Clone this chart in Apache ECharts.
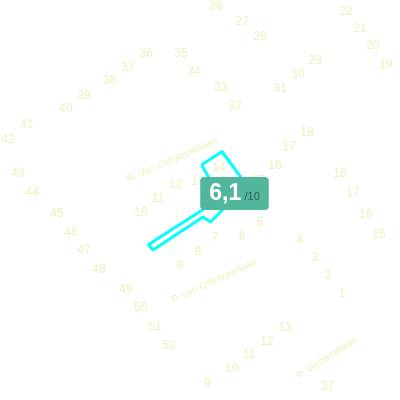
<!DOCTYPE html>
<html>
<head>
<meta charset="utf-8">
<script src="https://cdn.jsdelivr.net/npm/echarts@6/dist/echarts.min.js"></script>
<style>
  html, body { margin: 0; padding: 0; background: #fff; }
  #chart { width: 400px; height: 400px; }
</style>
</head>
<body>
<div id="chart"></div>
<script>
// house numbers along the streets (map units, y grows downward)
const houseLabels = ['26','27','28','22','21','20','19','36','35','37','34','38','29','30','39','33','31','40','32','41','42',
    '18','17','16','14','13','15','43','44','12','11','45','10','46','7','6','5','4','3','2','1','47','8','9','48',
    '49','50','51','52','18','17','16','15','13','12','11','10','9','37'];
const houseX = [216,242,260,346,360,373,386,146,181,128,194,110,315,298,84,221,280,66,235,27,8,
    307,289,275,219,198,258,18,32,176,158,57,141,71,215,242,260,300,315,328,342,84,198,180,99,
    126,141,155,169,340,353,366,379,285,267,249,232,207,328];
const houseY = [7,22,37,12,29,46,65,54,54,68,72,81,61,75,96,88,89,109,106,125,140,
    133,147,166,168,182,181,174,193,185,199,214,213,233,238,237,223,241,258,276,294,251,252,266,270,
    290,308,327,346,174,193,215,235,328,342,355,369,384,387];

// street names
const streetNames = ['R. Van Ostracyenlaan', 'P. Van Ostooyenlaan', 'P. Verheinelaan'];
const streetX = [172, 214, 327];
const streetY = [160, 281, 358];
const streetAngle = [24, 25, 33];

// selected building outline
const outlineX = [201.5, 222, 245, 220, 210.5, 203, 153, 148.5, 221, 201.5];
const outlineY = [165, 151.5, 183, 212.5, 222, 217, 250, 244.5, 198, 165];

// rating
const ratingScore = '6,1';
const ratingMax = 10;
const ratingPos = [234.5, 193.5];

const labelColor = '#e6f5bb';

const chart = echarts.init(document.getElementById('chart'));

chart.setOption({
    animation: false,
    grid: { left: 0, right: 0, top: 0, bottom: 0 },
    xAxis: { type: 'value', min: 0, max: 400, show: false },
    yAxis: { type: 'value', min: 0, max: 400, inverse: true, show: false },
    series: [
        {
            type: 'scatter',
            symbolSize: 0,
            silent: true,
            itemStyle: { opacity: 1 },
            data: houseLabels.map((n, i) => ({ name: n, value: [houseX[i], houseY[i]] })),
            label: {
                show: true,
                position: 'inside',
                formatter: p => p.name,
                color: labelColor,
                opacity: 1,
                fontSize: 12,
                fontFamily: 'Liberation Sans'
            }
        },
        {
            type: 'scatter',
            symbolSize: 0,
            silent: true,
            itemStyle: { opacity: 1 },
            data: streetNames.map((n, i) => ({
                name: n,
                value: [streetX[i], streetY[i]],
                label: { rotate: streetAngle[i] }
            })),
            label: {
                show: true,
                position: 'inside',
                formatter: p => p.name,
                color: labelColor,
                opacity: 1,
                fontSize: 10,
                fontFamily: 'Liberation Sans'
            }
        },
        {
            type: 'line',
            symbol: 'none',
            silent: true,
            data: outlineX.map((x, i) => [x, outlineY[i]]),
            lineStyle: { color: '#00ffff', width: 3 },
            z: 3
        },
        {
            type: 'scatter',
            symbolSize: 0,
            silent: true,
            zlevel: 1,
            itemStyle: { opacity: 1 },
            data: [{ name: ratingScore, value: ratingPos }],
            label: {
                show: true,
                position: 'inside',
                opacity: 1,
                formatter: p => '{a|' + p.name + '} {b|/' + ratingMax + '}',
                backgroundColor: '#52b69c',
                borderRadius: 4,
                padding: [4, 9, 3, 9],
                rich: {
                    a: { color: '#fff', fontSize: 23, fontWeight: 'bold', fontFamily: 'Liberation Sans', lineHeight: 26 },
                    b: { color: '#2d5d50', fontSize: 11, fontFamily: 'Liberation Sans', padding: [6, 0, 0, 0] }
                }
            }
        }
    ]
});
</script>
</body>
</html>
